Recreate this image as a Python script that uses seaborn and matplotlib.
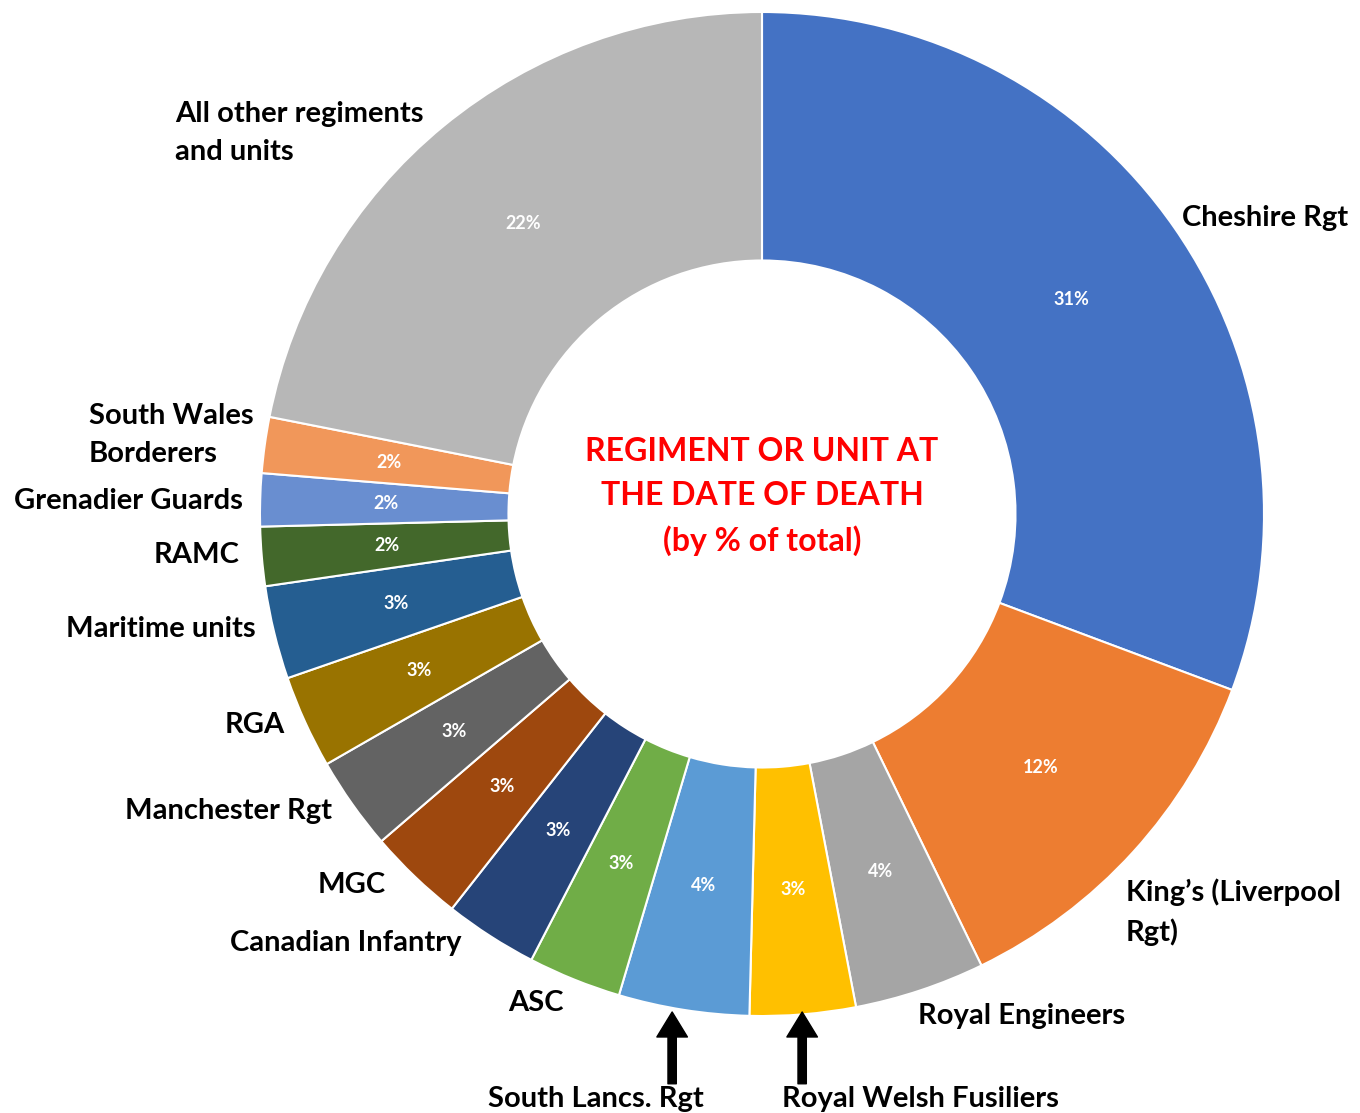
import numpy as np
import seaborn as sns
import matplotlib.pyplot as plt

sns.set_theme(style="white")
plt.rcParams['font.family'] = ['Lato', 'DejaVu Sans']

# regiments, clockwise from 12 o'clock
units = ['Cheshire Rgt', 'King\u2019s (Liverpool\nRgt)', 'Royal Engineers',
         'Royal Welsh Fusiliers', 'South Lancs. Rgt', 'ASC', 'Canadian Infantry',
         'MGC', 'Manchester Rgt', 'RGA', 'Maritime units', 'RAMC',
         'Grenadier Guards', 'South Wales\nBorderers', 'All other regiments\nand units']
share = [30.7, 12.1, 4.2, 3.4, 4.2, 3.0, 3.0, 3.1, 3.0, 3.0, 3.0, 1.9, 1.7, 1.8, 21.9]
colors = ['#4472C4', '#ED7D31', '#A5A5A5', '#FFC000', '#5B9BD5', '#70AD47', '#264478',
          '#9E480E', '#636363', '#997300', '#255E91', '#43682B', '#698ED0', '#F1975A',
          '#B7B7B7']

# label placement (data coords, outer radius = 1) and alignment
label_pos = [(0.837, 0.59, 'left'), (0.725, -0.793, 'left'), (0.311, -1.0, 'left'),
             (0.04, -1.165, 'left'), (-0.331, -1.165, 'center'), (-0.396, -0.974, 'right'),
             (-0.598, -0.855, 'right'), (-0.749, -0.739, 'right'), (-0.857, -0.592, 'right'),
             (-0.95, -0.42, 'right'), (-1.008, -0.229, 'right'), (-1.04, -0.082, 'right'),
             (-1.034, 0.026, 'right'), (-1.341, 0.157, 'left'), (-1.169, 0.759, 'left')]

fig = plt.figure(figsize=(13.6, 11.13), dpi=100)
ax = fig.add_axes([0, 0, 1, 1])
wedges, _, autotexts = ax.pie(share, colors=colors, startangle=90, counterclock=False,
                              radius=1, autopct='%.0f%%', pctdistance=0.75,
                              wedgeprops=dict(width=0.495, edgecolor='white', linewidth=1.5),
                              textprops=dict(color='white', fontsize=13, fontweight='bold'))

for name, (x, y, ha) in zip(units, label_pos):
    ax.text(x, y, name, ha=ha, va='center', fontsize=21, fontweight='bold',
            color='black', multialignment='left', linespacing=1.55)

# arrows pointing at the two small slices
for ax_x in [-0.179, 0.080]:
    ax.annotate('', xy=(ax_x, -0.992), xytext=(ax_x, -1.135),
                arrowprops=dict(facecolor='black', edgecolor='black', width=6,
                                headwidth=22, headlength=18))

ax.text(0, 0.035, 'REGIMENT OR UNIT AT\nTHE DATE OF DEATH\n(by % of total)',
        ha='center', va='center', fontsize=23, fontweight='bold', color='#FF0000',
        linespacing=1.6)

ax.set_xlim(-762 / 502, (1360 - 762) / 502)
ax.set_ylim(-(1113 - 514) / 502, 514 / 502)
ax.axis('off')

plt.savefig('out.png', dpi=100)
